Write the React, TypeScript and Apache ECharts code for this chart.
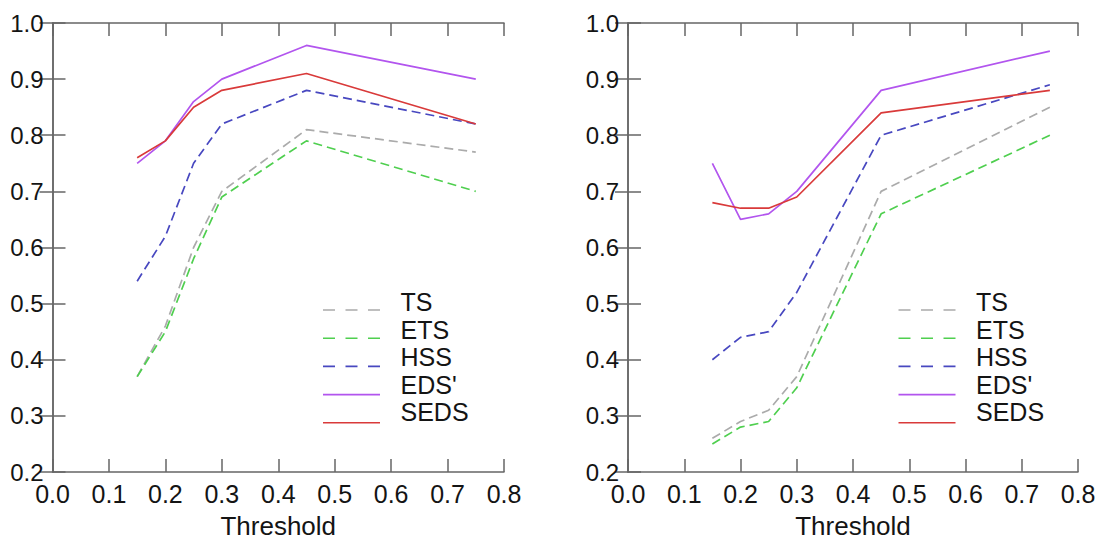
import React, { useEffect, useRef } from "react";
import * as echarts from "echarts";

const thresholds = [0.15, 0.2, 0.25, 0.3, 0.45, 0.75];
const seriesNames = ["TS", "ETS", "HSS", "EDS'", "SEDS"];

// Left panel
const leftTS = [0.37, 0.46, 0.6, 0.7, 0.81, 0.77];
const leftETS = [0.37, 0.45, 0.58, 0.69, 0.79, 0.7];
const leftHSS = [0.54, 0.62, 0.75, 0.82, 0.88, 0.82];
const leftEDS = [0.75, 0.79, 0.86, 0.9, 0.96, 0.9];
const leftSEDS = [0.76, 0.79, 0.85, 0.88, 0.91, 0.82];

// Right panel
const rightTS = [0.26, 0.29, 0.31, 0.37, 0.7, 0.85];
const rightETS = [0.25, 0.28, 0.29, 0.35, 0.66, 0.8];
const rightHSS = [0.4, 0.44, 0.45, 0.52, 0.8, 0.89];
const rightEDS = [0.75, 0.65, 0.66, 0.7, 0.88, 0.95];
const rightSEDS = [0.68, 0.67, 0.67, 0.69, 0.84, 0.88];

const xTickLabels = ["0.0", "0.1", "0.2", "0.3", "0.4", "0.5", "0.6", "0.7", "0.8"];
const yTickLabels = ["0.2", "0.3", "0.4", "0.5", "0.6", "0.7", "0.8", "0.9", "1.0"];

const colors = ["#ababab", "#4fcf4f", "#4848c0", "#b255ee", "#d93a3a"];
const dashed = [true, true, true, false, false];

const FONT = "'Liberation Sans', Arial, sans-serif";
const AXIS_COLOR = "#666666";
const TEXT_COLOR = "#141414";

const grids = [
  { left: 52.5, top: 23, width: 451.5, height: 451 },
  { left: 628, top: 23, width: 450, height: 451 },
];

function makeXAxes(gridIndex: number) {
  const common = {
    type: "value" as const,
    gridIndex,
    min: 0,
    max: 0.8,
    interval: 0.1,
    splitLine: { show: false },
    axisLine: { show: true, lineStyle: { color: AXIS_COLOR, width: 1.5 } },
    axisTick: { show: true, inside: true, length: 13, lineStyle: { color: AXIS_COLOR, width: 1.5 } },
  };
  return [
    {
      ...common,
      position: "bottom",
      axisLabel: {
        show: true,
        fontSize: 25,
        fontFamily: FONT,
        color: TEXT_COLOR,
        margin: 9,
        formatter: (v: number) => xTickLabels[Math.round(v * 10)] ?? "",
      },
      name: "Threshold",
      nameLocation: "middle",
      nameGap: 41,
      nameTextStyle: { fontSize: 26, fontFamily: FONT, color: TEXT_COLOR },
    },
    { ...common, position: "top", axisLabel: { show: false } },
  ];
}

function makeYAxes(gridIndex: number) {
  const common = {
    type: "value" as const,
    gridIndex,
    min: 0.2,
    max: 1.0,
    interval: 0.1,
    splitLine: { show: false },
    axisLine: { show: true, lineStyle: { color: AXIS_COLOR, width: 1.5 } },
    axisTick: { show: true, inside: true, length: 13, lineStyle: { color: AXIS_COLOR, width: 1.5 } },
  };
  return [
    {
      ...common,
      position: "left",
      axisLabel: {
        show: true,
        fontSize: 24,
        fontFamily: FONT,
        color: TEXT_COLOR,
        margin: 9,
        formatter: (v: number) => yTickLabels[Math.round(v * 10) - 2] ?? "",
      },
    },
    { ...common, position: "right", axisLabel: { show: false } },
  ];
}

function makeSeries(panel: number, values: number[][]) {
  return values.map((vals, i) => ({
    type: "line",
    name: seriesNames[i],
    xAxisIndex: panel * 2,
    yAxisIndex: panel * 2,
    data: thresholds.map((t, k) => [t, vals[k]]),
    symbol: "none",
    silent: true,
    lineStyle: {
      color: colors[i],
      width: 1.7,
      type: dashed[i] ? [9, 5] : "solid",
    },
  }));
}

function makeLegend(offsetX: number) {
  const els: any[] = [];
  seriesNames.forEach((name, i) => {
    const ly = 310 + i * 28.2;
    els.push({
      type: "line",
      silent: true,
      shape: { x1: offsetX + 270.5, y1: ly, x2: offsetX + 327.5, y2: ly },
      style: {
        stroke: colors[i],
        lineWidth: 1.6,
        lineDash: dashed[i] ? [12, 10.5] : null,
      },
    });
    els.push({
      type: "text",
      silent: true,
      style: {
        text: name,
        x: offsetX + 348,
        y: 302 + i * 27.5,
        fontSize: 25,
        fontFamily: FONT,
        fill: TEXT_COLOR,
        verticalAlign: "middle",
        align: "left",
      },
    });
  });
  return els;
}

export default function App() {
  const ref = useRef<HTMLDivElement>(null);
  useEffect(() => {
    if (!ref.current) return;
    const chart = echarts.init(ref.current, undefined, { renderer: "svg" });
    chart.setOption({
      animation: false,
      backgroundColor: "#ffffff",
      grid: grids,
      xAxis: [...makeXAxes(0), ...makeXAxes(1)],
      yAxis: [...makeYAxes(0), ...makeYAxes(1)],
      series: [
        ...makeSeries(0, [leftTS, leftETS, leftHSS, leftEDS, leftSEDS]),
        ...makeSeries(1, [rightTS, rightETS, rightHSS, rightEDS, rightSEDS]),
      ],
      graphic: [...makeLegend(grids[0].left), ...makeLegend(grids[1].left)],
    });
    return () => chart.dispose();
  }, []);
  return (
    <div
      ref={ref}
      style={{ position: "fixed", left: 0, top: 0, width: 1099, height: 544 }}
    />
  );
}
